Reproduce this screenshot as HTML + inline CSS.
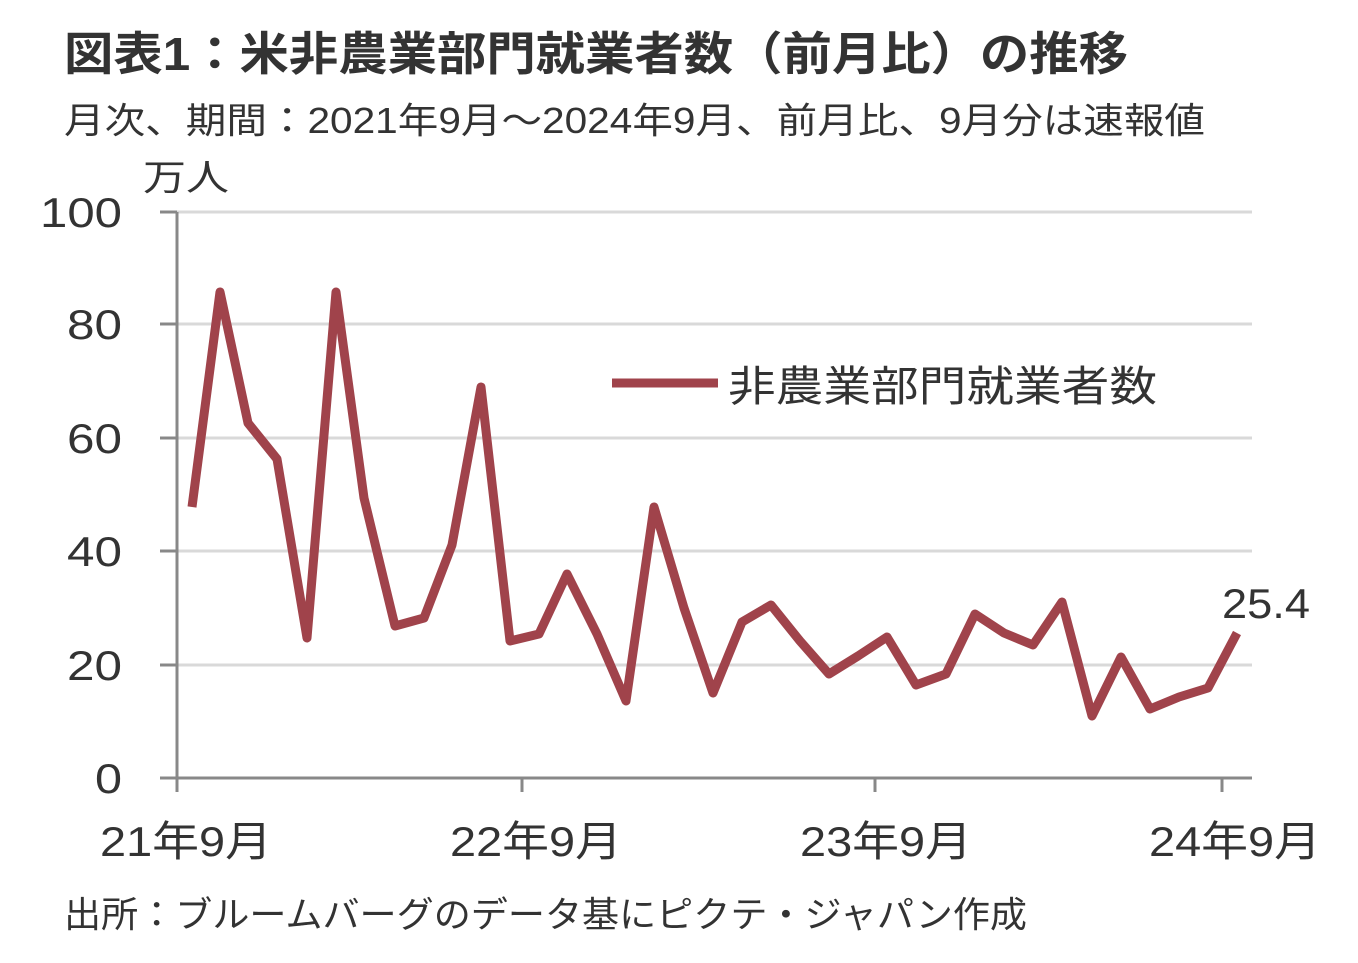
<!DOCTYPE html>
<html><head><meta charset="utf-8"><style>
body{margin:0;background:#fff;}
svg text{font-family:"Liberation Sans","Noto Sans CJK JP",sans-serif;fill:#333;}
</style></head><body>
<svg width="1358" height="958" viewBox="0 0 1358 958" xmlns="http://www.w3.org/2000/svg">
<text x="64" y="70" font-size="46" font-weight="bold" fill="#444" textLength="1064" lengthAdjust="spacingAndGlyphs">図表1：米非農業部門就業者数（前月比）の推移</text>
<text x="64" y="133" font-size="36" fill="#444" textLength="1141" lengthAdjust="spacingAndGlyphs">月次、期間：2021年9月～2024年9月、前月比、9月分は速報値</text>
<text x="143" y="190" font-size="36" fill="#333" textLength="86" lengthAdjust="spacingAndGlyphs">万人</text>
<g stroke="#d9d9d9" stroke-width="3">
<line x1="177" y1="212" x2="1252" y2="212"/>
<line x1="177" y1="324" x2="1252" y2="324"/>
<line x1="177" y1="438" x2="1252" y2="438"/>
<line x1="177" y1="551" x2="1252" y2="551"/>
<line x1="177" y1="665" x2="1252" y2="665"/>
</g>
<g stroke="#888" stroke-width="3">
<line x1="177" y1="212" x2="177" y2="778"/>
<line x1="160" y1="778" x2="1252" y2="778"/>
<line x1="160" y1="212" x2="177" y2="212"/>
<line x1="160" y1="324" x2="177" y2="324"/>
<line x1="160" y1="438" x2="177" y2="438"/>
<line x1="160" y1="551" x2="177" y2="551"/>
<line x1="160" y1="665" x2="177" y2="665"/>
<line x1="177" y1="778" x2="177" y2="792"/>
<line x1="522" y1="778" x2="522" y2="792"/>
<line x1="875" y1="778" x2="875" y2="792"/>
<line x1="1222" y1="778" x2="1222" y2="792"/>
</g>
<g font-size="42" text-anchor="end">
<text x="122" y="227" textLength="82" lengthAdjust="spacingAndGlyphs">100</text>
<text x="122" y="339" textLength="55" lengthAdjust="spacingAndGlyphs">80</text>
<text x="122" y="453" textLength="55" lengthAdjust="spacingAndGlyphs">60</text>
<text x="122" y="566" textLength="55" lengthAdjust="spacingAndGlyphs">40</text>
<text x="122" y="680" textLength="55" lengthAdjust="spacingAndGlyphs">20</text>
<text x="122" y="793" textLength="27" lengthAdjust="spacingAndGlyphs">0</text>
</g>
<g font-size="42">
<text x="100" y="856" textLength="172" lengthAdjust="spacingAndGlyphs">21年9月</text>
<text x="450" y="856" textLength="172" lengthAdjust="spacingAndGlyphs">22年9月</text>
<text x="800" y="856" textLength="172" lengthAdjust="spacingAndGlyphs">23年9月</text>
<text x="1149" y="856" textLength="172" lengthAdjust="spacingAndGlyphs">24年9月</text>
</g>
<polyline fill="none" stroke="#a0434b" stroke-width="9" stroke-linejoin="round" points="192,507 220,292 248,423 277,459 307,638 336,292 364,498 395,626 424,618 452,545 481,387 510,641 539,634 567,574 597,634 626,701 654,507 684,608 713,693 742,622 771,605 800,641 829,674 858,656 887,637 916,685 946,674 975,614 1004,633 1033,645 1062,602 1092,716 1121,657 1150,709 1179,697 1208,688 1237,633"/>
<line x1="612" y1="383" x2="718" y2="383" stroke="#a0434b" stroke-width="9"/>
<text x="728" y="401" font-size="42" textLength="429" lengthAdjust="spacingAndGlyphs">非農業部門就業者数</text>
<text x="1222" y="618" font-size="42" textLength="88" lengthAdjust="spacingAndGlyphs">25.4</text>
<text x="64" y="927" font-size="36" fill="#333" textLength="963" lengthAdjust="spacingAndGlyphs">出所：ブルームバーグのデータ基にピクテ・ジャパン作成</text>
</svg>
</body></html>
